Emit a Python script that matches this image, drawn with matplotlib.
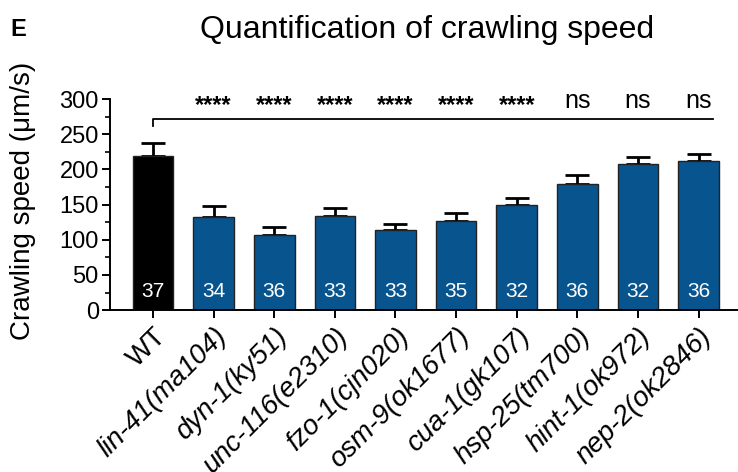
import matplotlib
matplotlib.use("Agg")
import matplotlib.pyplot as plt
import numpy as np

plt.rcParams["font.family"] = ["Liberation Sans", "DejaVu Sans"]

strains = ["WT", "lin-41(ma104)", "dyn-1(ky51)", "unc-116(e2310)", "fzo-1(cjn020)",
           "osm-9(ok1677)", "cua-1(gk107)", "hsp-25(tm700)", "hint-1(ok972)", "nep-2(ok2846)"]
speed = [219.5, 133, 107, 134, 114, 126, 150, 179, 208, 212]
sem = [18.5, 14.5, 11.5, 11.5, 9, 12, 9, 12.5, 9.5, 10]
n_worms = [37, 34, 36, 33, 33, 35, 32, 36, 32, 36]
signif = ["", "****", "****", "****", "****", "****", "****", "ns", "ns", "ns"]

x = np.arange(len(strains))
colors = ["black"] + ["#08548f"] * (len(strains) - 1)

fig = plt.figure(figsize=(7.38, 4.72), dpi=100)
ax = fig.add_axes([0.149, 0.343, 0.851, 0.447])

ax.bar(x, speed, width=0.67, color=colors, edgecolor="#222222", linewidth=1, zorder=2)
ax.errorbar(x, speed, yerr=[np.zeros(len(sem)), sem], fmt="none", ecolor="black",
            elinewidth=2, capsize=8.5, capthick=2, zorder=1)

for xi, n in zip(x, n_worms):
    ax.text(xi, 18, str(n), ha="center", va="baseline", color="white", fontsize=15)

# bracket WT vs mutants
by = 272
ax.plot([0, 0, 9.23], [262, by, by], color="black", lw=1.3, clip_on=False)
for xi, s in zip(x, signif):
    if not s:
        continue
    if s == "ns":
        ax.text(xi, 287, s, ha="center", va="baseline", fontsize=18, clip_on=False)
    else:
        ax.text(xi, 281, s, ha="center", va="baseline", fontsize=17, fontweight="bold",
                clip_on=False)

ax.set_xlim(-0.71, 9.65)
ax.set_ylim(0, 300)
ax.set_yticks(np.arange(0, 301, 50))
ax.set_yticks(np.arange(0, 301, 25), minor=True)
ax.tick_params(axis="y", which="major", labelsize=17, width=1.4, length=6, pad=2)
ax.tick_params(axis="y", which="minor", width=1.2, length=3.5)
ax.tick_params(axis="x", width=1.4, length=6)
ax.set_xticks(x)
ax.set_xticklabels(strains, rotation=45, ha="right", rotation_mode="anchor", fontsize=20)
for lab in ax.get_xticklabels()[1:]:
    lab.set_fontstyle("italic")

for side in ["top", "right"]:
    ax.spines[side].set_visible(False)
for side in ["left", "bottom"]:
    ax.spines[side].set_linewidth(1.4)

ax.set_ylabel("Crawling speed (μm/s)", fontsize=20)
ax.yaxis.set_label_coords(-0.118, 0.52)

fig.text(0.579, 0.936, "Quantification of crawling speed", ha="center", va="center",
         fontsize=23)
fig.text(0.014, 0.9375, "E", ha="left", va="center", fontsize=17, fontweight="bold")

fig.savefig("out.png", dpi=100)
